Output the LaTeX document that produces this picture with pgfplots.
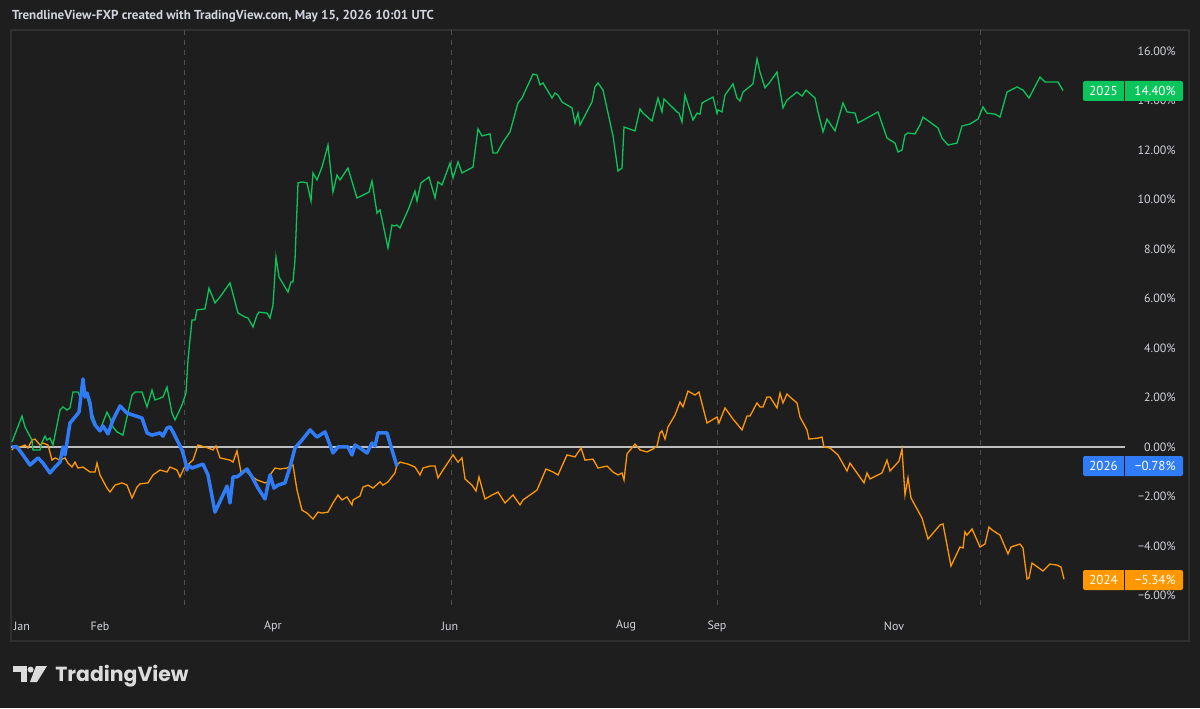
\documentclass[border=0pt]{standalone}
\usepackage{fontspec}
\setmainfont{PT Sans}
\newfontfamily\logofont{Poppins}
\usepackage{pgfplots}
\pgfplotsset{compat=1.18}
\definecolor{bgc}{RGB}{30,30,30}
\definecolor{framec}{RGB}{48,48,48}
\definecolor{txtc}{RGB}{209,212,220}
\definecolor{gline}{RGB}{12,196,92}
\definecolor{oline}{RGB}{255,152,0}
\definecolor{bline}{RGB}{47,124,246}
\definecolor{dashc}{RGB}{80,80,80}
\definecolor{zeroc}{RGB}{190,190,190}
\definecolor{logoc}{RGB}{220,220,220}
\begin{document}
\begin{tikzpicture}[x=1pt,y=1pt]
\fill[bgc] (0,0) rectangle (600,354);
\useasboundingbox (0,0) rectangle (600,354);
\draw[framec, line width=0.75pt] (5.5,339) rectangle (594.5,33.5);
\node[anchor=west, inner sep=0pt, text=txtc, font=\bfseries\fontsize{6.5}{7}\selectfont] at (5.8,346) {TrendlineView-FXP created with TradingView.com, May 15, 2026 10:01 UTC};
\begin{axis}[
  at={(5.5pt,51.5pt)}, anchor=south west,
  scale only axis, width=557pt, height=287.5pt,
  xmin=11, xmax=1125, ymin=-6.384, ymax=16.848,
  axis line style={draw=none}, major tick length=0pt,
  xtick={22,100,273,450,626,717,894},
  xticklabels={Jan,Feb,Apr,Jun,Aug,Sep,Nov},
  xticklabel style={anchor=center, yshift=-10.5pt, text=txtc, font=\fontsize{6}{7}\selectfont},
  extra x ticks={184,451,717,980},
  extra x tick labels={},
  extra x tick style={grid=major, major grid style={draw=dashc, line width=0.5pt, dash pattern=on 2.5pt off 2.5pt}},
  ytick={-6,-4,-2,0,2,4,6,8,10,12,14,16},
  yticklabels={−6.00\%,−4.00\%,−2.00\%,0.00\%,2.00\%,4.00\%,6.00\%,8.00\%,10.00\%,12.00\%,14.00\%,16.00\%},
  yticklabel pos=right,
  yticklabel style={anchor=east, inner sep=0pt, xshift=25.5pt, text=txtc, font=\fontsize{6}{7}\selectfont},
]
\addplot[zeroc, line width=0.7pt] coordinates {(11,0)(1125,0)};
% 2024
\addplot[oline, line width=0.65pt] coordinates {
(12,-0.12)(15,0.04)(20,0)(25,0.08)(28,-0.04)(32,0.28)(35,0.32)(40,0.08)(43,0.16)(48,0.08)(52,-0.53)(55,-0.44)(60,-0.53)(65,-0.44)(68,-0.65)(72,-0.81)(75,-0.61)(78,-0.85)(83,-0.81)(90,-1.01)(95,-1.01)(97,-0.65)(100,-1.13)(107,-1.66)(110,-1.82)(115,-1.54)(122,-1.45)(127,-1.54)(132,-2.06)(137,-1.62)(140,-1.49)(148,-1.45)(153,-1.13)(160,-0.93)(167,-1.01)(170,-0.81)(177,-0.93)(180,-1.21)(184,-0.85)(193,-0.53)(198,0.08)(208,-0.04)(213,-0.12)(216,0.04)(220,-0.44)(230,-0.53)(233,-0.61)(237,-0.16)(241,-1.01)(245,-0.93)(250,-1.13)(257,-1.33)(265,-1.45)(268,-1.41)(270,-1.13)(275,-0.85)(280,-0.89)(287,-0.85)(290,-0.77)(293,-0.73)(297,-1.74)(302,-2.55)(307,-2.67)(313,-2.91)(318,-2.63)(322,-2.67)(328,-2.63)(333,-2.26)(338,-1.94)(342,-2.14)(347,-2.02)(352,-2.34)(353,-2.14)(360,-1.98)(363,-1.62)(368,-1.54)(373,-1.66)(380,-1.41)(383,-1.54)(388,-1.41)(395,-1.05)(397,-0.73)(400,-0.61)(408,-0.69)(415,-0.81)(420,-1.13)(423,-0.85)(430,-0.77)(435,-0.77)(438,-1.25)(443,-0.93)(453,-0.32)(458,-0.61)(462,-0.44)(465,-1.29)(472,-1.54)(476,-1.78)(479,-1.21)(485,-2.10)(492,-1.94)(498,-1.82)(505,-2.26)(510,-2.06)(513,-1.94)(520,-2.34)(523,-2.14)(530,-1.94)(537,-1.74)(546,-0.89)(553,-1.01)(558,-1.13)(567,-0.32)(575,-0.40)(581,-0.04)(585,-0.53)(593,-0.49)(598,-0.85)(607,-0.77)(613,-1.01)(618,-1.13)(622,-1.05)(624,-1.33)(627,-0.28)(635,0.12)(640,-0.12)(647,-0.20)(653,-0.08)(657,0.04)(660,0.57)(662,0.65)(665,0.32)(668,0.81)(675,1.29)(680,1.82)(683,1.62)(688,2.26)(695,2.10)(699,2.22)(707,0.97)(717,1.21)(719,0.97)(725,1.58)(733,1.13)(742,0.69)(747,1.25)(750,1.25)(757,1.78)(760,1.62)(763,1.62)(767,2.02)(770,2.02)(777,1.58)(780,2.18)(783,1.78)(787,2.14)(790,2.02)(797,1.78)(800,1.21)(807,0.69)(809,0.32)(818,0.36)(822,0.40)(824,0)(830,-0.04)(838,-0.32)(847,-0.97)(850,-0.65)(864,-1.45)(867,-1.05)(870,-1.29)(882,-1.05)(887,-0.53)(890,-0.97)(899,-0.57)(902,-0.08)(905,-1.94)(908,-1.25)(911,-2.06)(922,-2.87)(928,-3.72)(940,-3.15)(943,-3.11)(951,-4.81)(960,-4.04)(963,-4.08)(965,-3.43)(967,-3.56)(972,-3.31)(980,-4.04)(985,-3.92)(989,-3.23)(992,-3.35)(1000,-3.56)(1008,-4.32)(1011,-4.04)(1020,-3.92)(1023,-4.08)(1027,-5.33)(1029,-5.29)(1032,-4.69)(1043,-5.01)(1050,-4.73)(1057,-4.77)(1061,-4.85)(1064,-5.34)
};
% 2025
\addplot[gline, line width=0.65pt] coordinates {
(12,0.20)(22,1.25)(25,0.81)(32,0.28)(33,-0.12)(40,-0.12)(42,0.20)(45,0.44)(47,0.28)(50,0.36)(53,0.08)(60,1.49)(63,1.62)(67,1.49)(70,1.58)(73,2.22)(78,2.22)(80,2.02)(83,2.18)(87,2.02)(90,1.58)(97,0.81)(100,0.69)(107,1.41)(110,1.17)(113,0.81)(117,0.61)(123,0.48)(127,1.21)(132,2.10)(135,2.22)(142,2.22)(147,1.62)(152,2.30)(155,1.90)(163,2.02)(167,2.42)(172,1.37)(175,1.09)(182,1.70)(186,2.18)(188,3.52)(192,5.13)(195,5.13)(197,5.54)(205,5.58)(209,6.42)(215,5.82)(220,6.06)(230,6.63)(238,5.41)(245,5.25)(248,5.21)(253,4.85)(257,5.33)(259,5.45)(267,5.41)(270,5.21)(273,5.74)(276,7.68)(279,6.87)(285,6.46)(288,6.26)(291,6.67)(293,6.67)(295,7.56)(298,10.67)(302,10.71)(307,10.67)(311,9.94)(313,11.07)(317,10.79)(322,11.31)(328,12.20)(333,10.30)(337,10.99)(340,10.79)(348,11.27)(357,10.06)(363,10.18)(369,10.30)(372,10.75)(377,9.45)(380,9.58)(388,8.04)(392,8.97)(394,8.93)(397,8.97)(400,8.85)(409,9.66)(415,10.34)(417,9.94)(421,10.67)(429,10.91)(435,10.06)(438,10.71)(442,10.59)(450,11.47)(453,10.87)(458,11.52)(462,11.07)(473,11.31)(478,12.85)(482,12.57)(490,12.65)(493,11.88)(497,11.88)(503,12.32)(510,12.73)(518,13.90)(522,14.10)(533,15.07)(537,15.03)(540,14.63)(543,14.71)(552,14.10)(555,14.30)(558,14.22)(562,13.94)(572,13.70)(575,13.09)(578,13.49)(580,13.01)(592,13.94)(595,14.55)(598,14.71)(603,14.42)(613,12.57)(618,11.15)(622,11.27)(624,12.93)(635,12.77)(640,13.66)(643,13.49)(652,13.17)(658,14.10)(662,13.54)(664,14.06)(677,13.54)(679,13.49)(682,13.13)(685,14.22)(693,13.21)(697,13.49)(700,13.45)(702,13.90)(713,14.14)(717,13.49)(718,13.62)(722,13.54)(725,14.22)(733,14.67)(737,14.10)(740,13.98)(743,14.34)(753,14.67)(757,15.68)(760,15.15)(765,14.51)(770,14.75)(777,15.15)(783,13.70)(787,14.02)(797,14.34)(802,14.18)(806,14.42)(815,14.10)(818,13.54)(823,12.73)(827,13.25)(835,12.77)(843,13.90)(847,13.54)(855,13.49)(858,13.09)(878,13.54)(887,12.48)(895,12.28)(898,11.92)(902,12.00)(905,12.61)(908,12.69)(915,12.65)(920,13.01)(923,13.33)(938,12.89)(942,12.48)(948,12.20)(957,12.28)(962,12.97)(970,13.05)(978,13.25)(983,13.74)(987,13.49)(995,13.45)(1000,13.33)(1007,14.34)(1017,14.55)(1023,14.42)(1029,14.10)(1040,14.95)(1045,14.75)(1050,14.75)(1058,14.75)(1063,14.40)
};
% 2026
\addplot[bline, line width=1.75pt, line join=round] coordinates {
(12,0)(17,0)(23,-0.32)(30,-0.73)(38,-0.44)(43,-0.65)(50,-1.05)(55,-0.81)(60,-0.61)(63,0)(65,-0.32)(70,0.97)(75,1.21)(79,1.41)(83,2.75)(85,2.02)(87,2.18)(90,1.78)(92,1.17)(95,0.89)(100,0.65)(103,0.85)(108,0.53)(113,1.09)(120,1.66)(127,1.37)(133,1.29)(142,1.17)(147,0.57)(152,0.48)(160,0.57)(163,0.44)(167,0.77)(170,0.81)(173,0.61)(182,-0.12)(185,-0.53)(187,-0.93)(188,-0.73)(192,-0.85)(203,-0.69)(208,-1.13)(215,-2.63)(222,-2.02)(227,-1.58)(230,-2.26)(233,-1.21)(237,-1.21)(247,-0.89)(252,-1.21)(258,-1.66)(265,-2.10)(270,-1.13)(274,-1.66)(278,-1.54)(285,-1.45)(290,-0.81)(295,-0.04)(302,0.28)(310,0.69)(317,0.40)(325,0.61)(333,-0.24)(338,0)(348,0)(352,-0.32)(355,0.08)(360,-0.04)(367,-0.24)(372,0.16)(375,0.04)(378,0.57)(387,0.57)(392,-0.12)(397,-0.78)
};
\end{axis}
% badges
\begin{scope}[font=\fontsize{6.5}{7}\selectfont]
\fill[gline, rounded corners=1pt] (541.5,303.5) rectangle (591.5,313.5);
\draw[bgc, line width=0.5pt] (562,303.5) -- (562,313.5);
\node[text=white, inner sep=0pt] at (551.75,308.5) {2025};
\node[text=white, inner sep=0pt, anchor=east] at (588,308.5) {14.40\%};
\fill[bline, rounded corners=1pt] (541.5,116) rectangle (591.5,126);
\draw[bgc, line width=0.5pt] (562,116) -- (562,126);
\node[text=white, inner sep=0pt] at (551.75,121) {2026};
\node[text=white, inner sep=0pt, anchor=east] at (588,121) {−0.78\%};
\fill[oline, rounded corners=1pt] (541.5,59) rectangle (591.5,69);
\draw[bgc, line width=0.5pt] (562,59) -- (562,69);
\node[text=white, inner sep=0pt] at (551.75,64) {2024};
\node[text=white, inner sep=0pt, anchor=east] at (588,64) {−5.34\%};
\end{scope}
% logo
\fill[logoc] (6.5,21) rectangle (13.5,18);
\fill[logoc] (10.5,21) rectangle (13.5,13);
\fill[logoc] (15.3,19.2) circle (1.5);
\fill[logoc] (18,21) -- (23.5,21) -- (18.5,13) -- (15,13) -- cycle;
\node[anchor=base west, inner sep=0pt, text=logoc, font=\logofont\bfseries\fontsize{10.2}{12}\selectfont] at (27.5,13.5) {TradingView};
\end{tikzpicture}
\end{document}
